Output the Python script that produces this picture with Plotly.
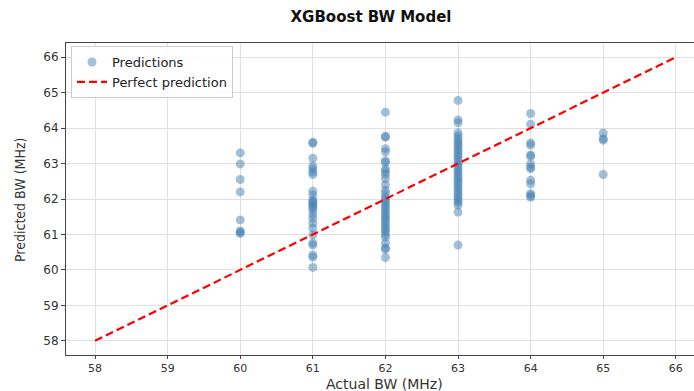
import plotly.graph_objects as go

# Data
pred_60 = [63.30, 62.99, 62.55, 62.20, 61.41, 61.10, 61.06, 61.03]
pred_61 = [63.60, 63.57, 63.15, 62.93, 62.85, 62.76, 62.69, 62.22, 62.11, 61.97, 61.93,
           61.88, 61.81, 61.76, 61.69, 61.57, 61.46, 61.32, 61.18, 60.99, 60.76, 60.70,
           60.42, 60.36, 60.07]
pred_62 = [64.45, 63.77, 63.74, 63.42, 63.33, 63.08, 63.03, 62.85, 62.78, 62.70, 62.57,
           62.40, 62.25, 62.15, 62.05, 61.98, 61.90, 61.82, 61.75, 61.68, 61.60, 61.52,
           61.45, 61.38, 61.30, 61.22, 61.15, 61.08, 61.00, 60.92, 60.75, 60.62, 60.58,
           60.35]
pred_63 = [64.78, 64.23, 64.15, 63.87, 63.78, 63.70, 63.62, 63.55, 63.48, 63.40, 63.33,
           63.25, 63.18, 63.10, 63.02, 62.95, 62.88, 62.80, 62.73, 62.65, 62.58, 62.50,
           62.43, 62.35, 62.28, 62.20, 62.12, 62.05, 61.97, 61.90, 61.83, 61.63, 60.70]
pred_64 = [64.41, 64.11, 63.58, 63.52, 63.24, 63.21, 62.99, 62.90, 62.85, 62.53, 62.43,
           62.15, 62.10, 62.05]
pred_65 = [63.86, 63.70, 63.66, 62.69]

actual_groups = [60, 61, 62, 63, 64, 65]
pred_groups = [pred_60, pred_61, pred_62, pred_63, pred_64, pred_65]

actual = []
predicted = []
for a, p in zip(actual_groups, pred_groups):
    actual += [a] * len(p)
    predicted += p

line_x = [58, 66]
line_y = [58, 66]
tick_vals = [58, 59, 60, 61, 62, 63, 64, 65, 66]

fig = go.Figure()
fig.add_trace(go.Scatter(
    x=actual, y=predicted, mode="markers", name="Predictions",
    marker=dict(size=9, color="rgba(70,130,180,0.5)", line=dict(width=0)),
))
fig.add_trace(go.Scatter(
    x=line_x, y=line_y, mode="lines", name="Perfect prediction",
    line=dict(color="#ff0000", width=2.2, dash="8px,4px"),
))

W, H = 694, 391
L, T, B = 66, 43, 36
PH = H - T - B
fig.update_layout(
    width=W, height=H,
    margin=dict(l=L, r=0, t=T, b=B, autoexpand=False),
    paper_bgcolor="white", plot_bgcolor="white",
    font=dict(family="DejaVu Sans", size=12, color="#333333"),
    title=dict(text="<b>XGBoost BW Model</b>", x=371 / W, xanchor="center",
               y=1 - 17 / H, yanchor="middle", yref="container",
               font=dict(size=15, color="#111111", family="DejaVu Sans")),
    showlegend=True,
    legend=dict(x=(71 - L) / (W - L), y=1 - (46 - T) / PH, xref="paper", yref="paper",
                xanchor="left", yanchor="top",
                bgcolor="rgba(255,255,255,0.85)", bordercolor="#cccccc", borderwidth=1,
                font=dict(size=13, color="#222222"), tracegroupgap=0,
                itemwidth=30),
    annotations=[
        dict(text="Actual BW (MHz)", xref="paper", yref="paper",
             x=(384 - L) / (W - L), y=-(384 - (T + PH)) / PH, xanchor="center", yanchor="middle",
             showarrow=False, font=dict(size=14, color="#333333")),
        dict(text="Predicted BW (MHz)", xref="paper", yref="paper",
             x=-(L - 20) / (W - L), y=1 - (200 - T) / PH, xanchor="center", yanchor="middle",
             textangle=-90, showarrow=False,
             font=dict(size=14, color="#333333", family="DejaVu Sans Condensed, DejaVu Sans")),
    ],
)
fig.update_xaxes(
    range=[57.6, 66.25], tickvals=tick_vals, ticks="outside", ticklen=3,
    tickcolor="#444444", showgrid=True, gridcolor="#e0e0e0", gridwidth=1,
    showline=True, linecolor="#444444", linewidth=1, mirror=True, zeroline=False,
    tickfont=dict(size=11, color="#333333"),
)
fig.update_yaxes(
    range=[57.6, 66.4], tickvals=tick_vals, ticks="outside", ticklen=4,
    tickcolor="#444444", showgrid=True, gridcolor="#e0e0e0", gridwidth=1,
    showline=True, linecolor="#444444", linewidth=1, zeroline=False,
    tickfont=dict(size=12, color="#333333"),
)

fig.write_html("out.html")
